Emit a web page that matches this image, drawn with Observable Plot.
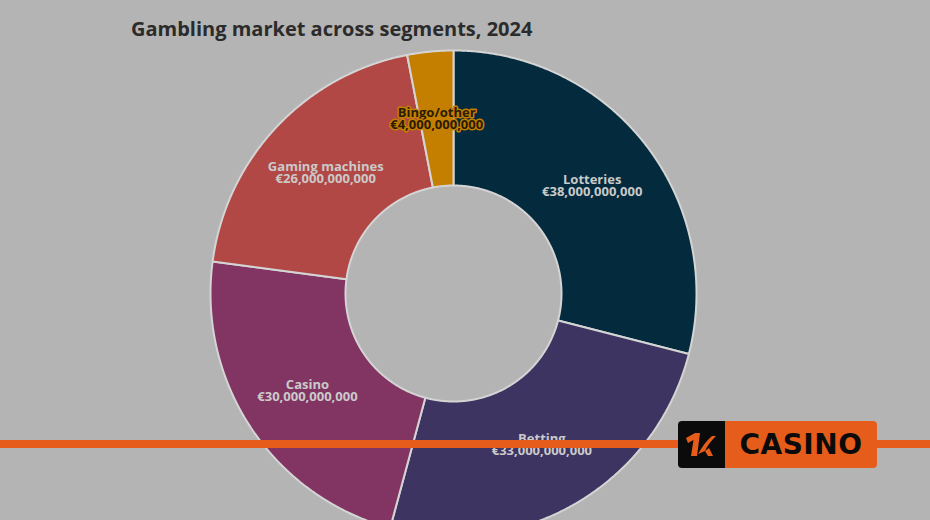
<!DOCTYPE html>
<html>
<head>
<meta charset="utf-8">
<script src="https://cdn.jsdelivr.net/npm/d3@7"></script>
<script src="https://cdn.jsdelivr.net/npm/@observablehq/plot@0.6"></script>
<style>
  html, body { margin: 0; padding: 0; background: #b4b4b4; width: 930px; height: 520px; overflow: hidden; }
  #title { position: absolute; left: 131px; top: 15px; font-family: "Open Sans", sans-serif; font-weight: 700; font-size: 20px; color: #2b2b2b; white-space: nowrap; z-index: 2; }
  #chart { position: absolute; left: 0; top: 0; }
  #bar { position: absolute; left: 0; top: 440px; width: 930px; height: 8px; background: #e65d1b; z-index: 3; }
  #logo { position: absolute; left: 678px; top: 421px; width: 199px; height: 47px; display: flex; z-index: 4; }
  #logo .mark { width: 47px; height: 47px; background: #0b0b0b; border-radius: 4px 0 0 4px; }
  #logo .word { flex: 1; background: #e65d1b; border-radius: 0 4px 4px 0; display: flex; align-items: center; justify-content: center; font-family: "DejaVu Sans", sans-serif; font-weight: 700; font-size: 28px; color: #0b0b0b; letter-spacing: 0.5px; }
</style>
</head>
<body>
<div id="title">Gambling market across segments, 2024</div>
<div id="chart"></div>
<div id="bar"></div>
<div id="logo">
  <div class="mark">
    <svg width="47" height="47" viewBox="0 0 47 47">
      <path d="M8 17 L17 12 L22 12 L19 35 L13 35 L15.5 19 L10 22 Z" fill="#e65d1b"/>
      <path d="M20 33 C24 26 28 20 34 15 L38 15 C33 20 29 25 27 30 Z" fill="#e65d1b"/>
      <path d="M27 30 L31 27 L35 35 L30 35 Z" fill="#e65d1b"/>
    </svg>
  </div>
  <div class="word">CASINO</div>
</div>
<script>
const categories = ["Lotteries", "Betting", "Casino", "Gaming machines", "Bingo/other"];
const values = [38000000000, 33000000000, 30000000000, 26000000000, 4000000000];
const palette = ["#032a3d", "#3d3461", "#823563", "#b24845", "#c47f00"];

const data = categories.map((name, i) => ({name, value: values[i]}));
const arcs = d3.pie().sort(null).value(d => d.value)(data);

const rInner = 108, rOuter = 243;
const points = [];
for (const a of arcs) {
  const n = Math.max(2, Math.ceil((a.endAngle - a.startAngle) / 0.005));
  for (let k = 0; k <= n; k++) {
    const t = a.startAngle + (a.endAngle - a.startAngle) * k / n;
    points.push({name: a.data.name, x: rOuter * Math.sin(t), y: rOuter * Math.cos(t)});
  }
  for (let k = n; k >= 0; k--) {
    const t = a.startAngle + (a.endAngle - a.startAngle) * k / n;
    points.push({name: a.data.name, x: rInner * Math.sin(t), y: rInner * Math.cos(t)});
  }
}
const fmt = d3.format(",");
const labels = arcs.map(a => {
  const m = (a.startAngle + a.endAngle) / 2, r = (rInner + rOuter) / 2;
  return {name: a.data.name, x: r * Math.sin(m), y: r * Math.cos(m), text: a.data.name + "\n€" + fmt(a.data.value)};
});

const chart = Plot.plot({
  width: 930,
  height: 540,
  margin: 0,
  style: {background: "transparent"},
  x: {domain: [-453, 477], axis: null},
  y: {domain: [-247, 293], axis: null},
  color: {domain: categories, range: palette},
  marks: [
    Plot.line(points, {x: "x", y: "y", z: "name", fill: "name", stroke: "#d4d4d4", strokeWidth: 2, curve: "linear-closed"}),
    Plot.text(labels.filter(d => d.name !== "Bingo/other"), {x: "x", y: "y", text: "text", fill: "#cacaca", fontSize: 13, fontWeight: 700, fontFamily: "Open Sans", lineHeight: 0.93}),
    Plot.text(labels.filter(d => d.name === "Bingo/other"), {x: "x", y: "y", text: "text", fill: "#2a1c02", stroke: "#c47f00", strokeWidth: 3, paintOrder: "stroke", fontSize: 13, fontWeight: 700, fontFamily: "Open Sans", lineHeight: 0.93})
  ]
});
document.getElementById("chart").appendChild(chart);
</script>
</body>
</html>
